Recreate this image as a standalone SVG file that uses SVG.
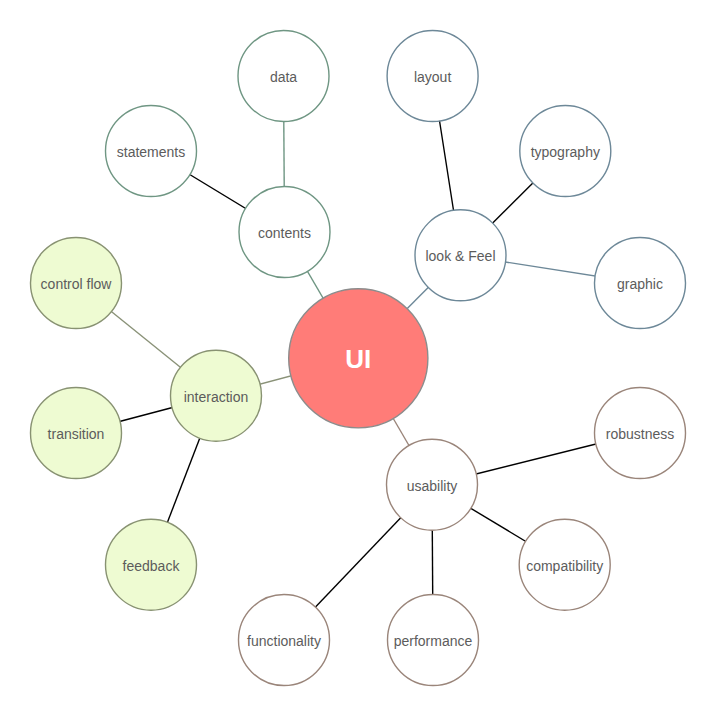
<svg xmlns="http://www.w3.org/2000/svg" width="716" height="716" viewBox="0 0 716 716">
<style>
text{font-family:"Liberation Sans",Arial,sans-serif;font-size:14px;fill:#5c5c5c;text-anchor:middle}
circle{stroke-width:1.4}
line{stroke-width:1.4}
.c circle{fill:#fff;stroke:#6f9683}
.l circle{fill:#fff;stroke:#6d8898}
.i circle{fill:#eefbd2;stroke:#889272}
.u circle{fill:#fff;stroke:#9a857a}
.k{stroke:#000}
.cg{stroke:#6f9683}
.lg{stroke:#6d8898}
.ig{stroke:#8a9278}
.ug{stroke:#9a857a}
</style>
<rect width="716" height="716" fill="#fff"/>
<g id="connectors">
<line class="cg" x1="358" y1="358" x2="284.5" y2="232"/>
<line class="cg" x1="284.5" y1="232" x2="283.5" y2="76"/>
<line class="k" x1="284.5" y1="232" x2="151" y2="151"/>
<line class="lg" x1="358" y1="358" x2="460.5" y2="255"/>
<line class="k" x1="460.5" y1="255" x2="432.5" y2="76"/>
<line class="k" x1="460.5" y1="255" x2="565" y2="151"/>
<line class="lg" x1="460.5" y1="255" x2="640" y2="283"/>
<line class="ig" x1="358" y1="358" x2="216" y2="396"/>
<line class="ig" x1="216" y1="396" x2="76" y2="283"/>
<line class="k" x1="216" y1="396" x2="76" y2="433"/>
<line class="k" x1="216" y1="396" x2="151" y2="565"/>
<line class="ug" x1="358" y1="358" x2="432" y2="485"/>
<line class="k" x1="432" y1="485" x2="640" y2="433"/>
<line class="k" x1="432" y1="485" x2="565" y2="565"/>
<line class="k" x1="432" y1="485" x2="433" y2="640"/>
<line class="k" x1="432" y1="485" x2="284" y2="640"/>
</g>
<g id="UI"><circle cx="358.3" cy="358.3" r="69.6" fill="#ff7c78" stroke="#8c8c8c"/><text x="358.3" y="367.5" style="font-size:26px;font-weight:bold;fill:#fff">UI</text></g>
<g id="contents" class="c"><circle cx="284.5" cy="232" r="45.5"/><text x="284.5" y="238">contents</text></g>
<g id="data" class="c"><circle cx="283.5" cy="76" r="45.5"/><text x="283.5" y="82">data</text></g>
<g id="statements" class="c"><circle cx="151" cy="151" r="45.5"/><text x="151" y="157">statements</text></g>
<g id="lookfeel" class="l"><circle cx="460.5" cy="255.3" r="45.5"/><text x="460.5" y="261">look &amp; Feel</text></g>
<g id="layout" class="l"><circle cx="432.6" cy="76" r="45.5"/><text x="432.6" y="82">layout</text></g>
<g id="typography" class="l"><circle cx="565.3" cy="151" r="45.5"/><text x="565.3" y="157">typography</text></g>
<g id="graphic" class="l"><circle cx="640" cy="283" r="45.5"/><text x="640" y="289">graphic</text></g>
<g id="interaction" class="i"><circle cx="216" cy="395.7" r="45.5"/><text x="216" y="402">interaction</text></g>
<g id="controlflow" class="i"><circle cx="76" cy="283" r="45.5"/><text x="76" y="289">control flow</text></g>
<g id="transition" class="i"><circle cx="76" cy="433" r="45.5"/><text x="76" y="439">transition</text></g>
<g id="feedback" class="i"><circle cx="151" cy="564.7" r="45.5"/><text x="151" y="571">feedback</text></g>
<g id="usability" class="u"><circle cx="432" cy="484.7" r="45.5"/><text x="432" y="491">usability</text></g>
<g id="robustness" class="u"><circle cx="640" cy="433" r="45.5"/><text x="640" y="439">robustness</text></g>
<g id="compatibility" class="u"><circle cx="564.7" cy="564.7" r="45.5"/><text x="564.7" y="571">compatibility</text></g>
<g id="performance" class="u"><circle cx="433" cy="640" r="45.5"/><text x="433" y="646">performance</text></g>
<g id="functionality" class="u"><circle cx="284" cy="640" r="45.5"/><text x="284" y="646">functionality</text></g>
</svg>
